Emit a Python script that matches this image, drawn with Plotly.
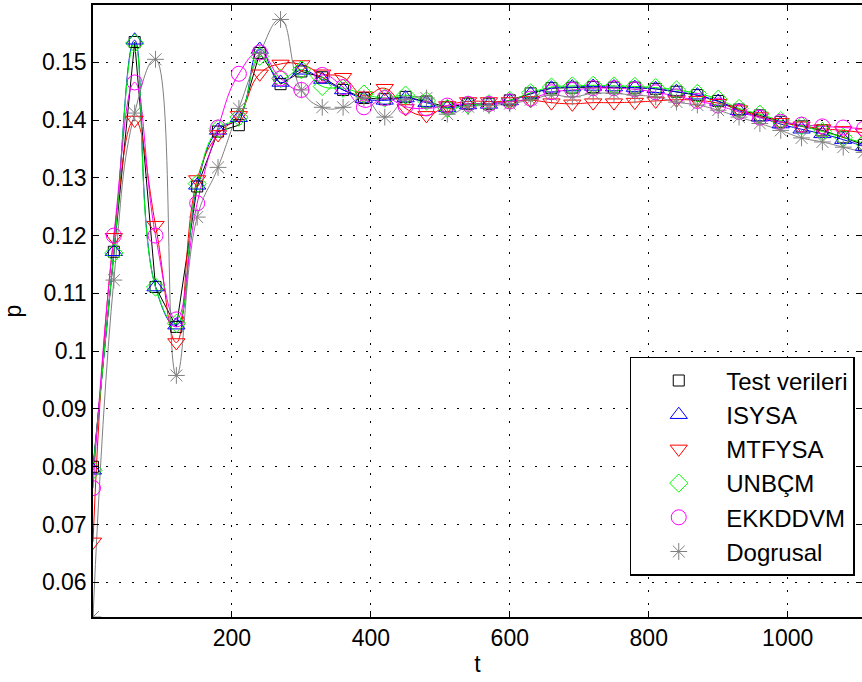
import plotly.graph_objects as go

t = [0, 30, 60, 90, 120, 150, 180, 210, 240, 270, 300, 330, 360, 390, 420, 450, 480, 510, 540,
     570, 600, 630, 660, 690, 720, 750, 780, 810, 840, 870, 900, 930, 960, 990, 1020, 1050, 1080, 1110]

test_verileri = [0.0800, 0.1172, 0.1535, 0.1111, 0.1042, 0.1285, 0.1380, 0.1391, 0.1516, 0.1462,
                 0.1484, 0.1474, 0.1452, 0.1438, 0.1436, 0.1440, 0.1432, 0.1422, 0.1428, 0.1428,
                 0.1434, 0.1446, 0.1455, 0.1456, 0.1457, 0.1456, 0.1456, 0.1454, 0.1449, 0.1443,
                 0.1433, 0.1418, 0.1408, 0.1397, 0.1389, 0.1382, 0.1370, 0.1357]
isysa = [0.0794, 0.1172, 0.1538, 0.1111, 0.1045, 0.1287, 0.1382, 0.1404, 0.1522, 0.1465,
         0.1486, 0.1470, 0.1452, 0.1437, 0.1434, 0.1438, 0.1430, 0.1421, 0.1426, 0.1427,
         0.1433, 0.1445, 0.1455, 0.1457, 0.1458, 0.1457, 0.1456, 0.1454, 0.1449, 0.1443,
         0.1432, 0.1416, 0.1405, 0.1393, 0.1384, 0.1376, 0.1366, 0.1354]
mtfysa = [0.0670, 0.1197, 0.1400, 0.1218, 0.1015, 0.1297, 0.1375, 0.1408, 0.1480, 0.1497,
          0.1496, 0.1480, 0.1474, 0.1442, 0.1455, 0.1420, 0.1408, 0.1425, 0.1432, 0.1432,
          0.1432, 0.1434, 0.1430, 0.1428, 0.1430, 0.1430, 0.1431, 0.1433, 0.1435, 0.1434,
          0.1429, 0.1418, 0.1406, 0.1396, 0.1390, 0.1385, 0.1382, 0.1378]
unbcm = [0.0794, 0.1170, 0.1533, 0.1111, 0.1048, 0.1290, 0.1385, 0.1405, 0.1510, 0.1472,
         0.1487, 0.1458, 0.1455, 0.1445, 0.1438, 0.1443, 0.1433, 0.1420, 0.1426, 0.1428,
         0.1434, 0.1447, 0.1457, 0.1459, 0.1460, 0.1459, 0.1458, 0.1456, 0.1452, 0.1446,
         0.1436, 0.1420, 0.1410, 0.1399, 0.1390, 0.1380, 0.1370, 0.1360]
ekkddvm = [0.0763, 0.1200, 0.1465, 0.1200, 0.1055, 0.1256, 0.1387, 0.1480, 0.1517, 0.1472,
           0.1452, 0.1478, 0.1457, 0.1422, 0.1438, 0.1423, 0.1420, 0.1425, 0.1428, 0.1428,
           0.1432, 0.1437, 0.1448, 0.1452, 0.1455, 0.1455, 0.1453, 0.1448, 0.1441, 0.1433,
           0.1425, 0.1414, 0.1404, 0.1397, 0.1392, 0.1389, 0.1387, 0.1385]
dogrusal = [0.0540, 0.1123, 0.1412, 0.1505, 0.0958, 0.1232, 0.1318, 0.1420, 0.1515, 0.1574,
            0.1452, 0.1422, 0.1422, 0.1438, 0.1405, 0.1435, 0.1438, 0.1410, 0.1423, 0.1425,
            0.1428, 0.1435, 0.1443, 0.1440, 0.1446, 0.1446, 0.1443, 0.1440, 0.1431, 0.1426,
            0.1417, 0.1405, 0.1394, 0.1382, 0.1369, 0.1362, 0.1353, 0.1344]

names = ["Test verileri", "ISYSA", "MTFYSA", "UNBÇM", "EKKDDVM", "Dogrusal"]
series = [test_verileri, isysa, mtfysa, unbcm, ekkddvm, dogrusal]
colors = ["#000000", "#0000ff", "#ff0000", "#00ff00", "#ff00ff", "#808080"]
symbols = ["square-open", "triangle-up-open", "triangle-down-open", "diamond-open",
           "circle-open", "asterisk-open"]
sizes = [11, 15, 15, 14, 15, 14]

FONT = "Liberation Sans, Arial, sans-serif"

fig = go.Figure()
for name, ys, c in zip(names, series, colors):
    fig.add_trace(go.Scatter(
        x=t, y=ys, mode="lines", showlegend=False, hoverinfo="skip",
        line=dict(color=c, width=1,
                  shape="linear" if name == "Test verileri" else "spline",
                  smoothing=1.3),
    ))
for i, (name, ys, c, s, sz) in enumerate(zip(names, series, colors, symbols, sizes)):
    fig.add_trace(go.Scatter(
        x=t, y=ys, mode="markers", name=name, legendgroup=f"g{i}",
        marker=dict(symbol=s, size=sz, color=c, line=dict(color=c, width=1)),
    ))

axis_common = dict(
    showline=True, linecolor="black", linewidth=1.5, mirror="ticks",
    ticks="inside", ticklen=6, tickcolor="black", tickwidth=1,
    showgrid=True, gridcolor="black", gridwidth=1, griddash="2px,11px",
    zeroline=False, automargin=False,
    tickfont=dict(family=FONT, size=23, color="black"),
)

fig.update_layout(
    width=862, height=682,
    margin=dict(l=93, r=0, t=5, b=65, autoexpand=False),
    paper_bgcolor="white", plot_bgcolor="white",
    font=dict(family=FONT, size=23, color="black"),
    xaxis=dict(range=[0, 1107], tickvals=[200, 400, 600, 800, 1000],
               ticktext=["200", "400", "600", "800", "1000"], ticklabelstandoff=0,
               title=dict(text="t", standoff=6, font=dict(size=23)), **axis_common),
    yaxis=dict(range=[0.054, 0.1599],
               tickvals=[0.06, 0.07, 0.08, 0.09, 0.10, 0.11, 0.12, 0.13, 0.14, 0.15],
               ticktext=["0.06", "0.07", "0.08", "0.09", "0.1", "0.11", "0.12", "0.13", "0.14", "0.15"],
               ticklabelstandoff=0,
               title=dict(text="p", standoff=14, font=dict(size=23)), **axis_common),
    legend=dict(x=0.698, y=0.425, xanchor="left", yanchor="top",
                bgcolor="white", bordercolor="black", borderwidth=1.5,
                font=dict(family=FONT, size=24), tracegroupgap=0, itemwidth=85),
    showlegend=True,
)

fig.write_html(
    "out.html",
    config={"displayModeBar": False},
    post_script="document.body.style.margin='0';document.body.style.overflow='hidden';",
)
